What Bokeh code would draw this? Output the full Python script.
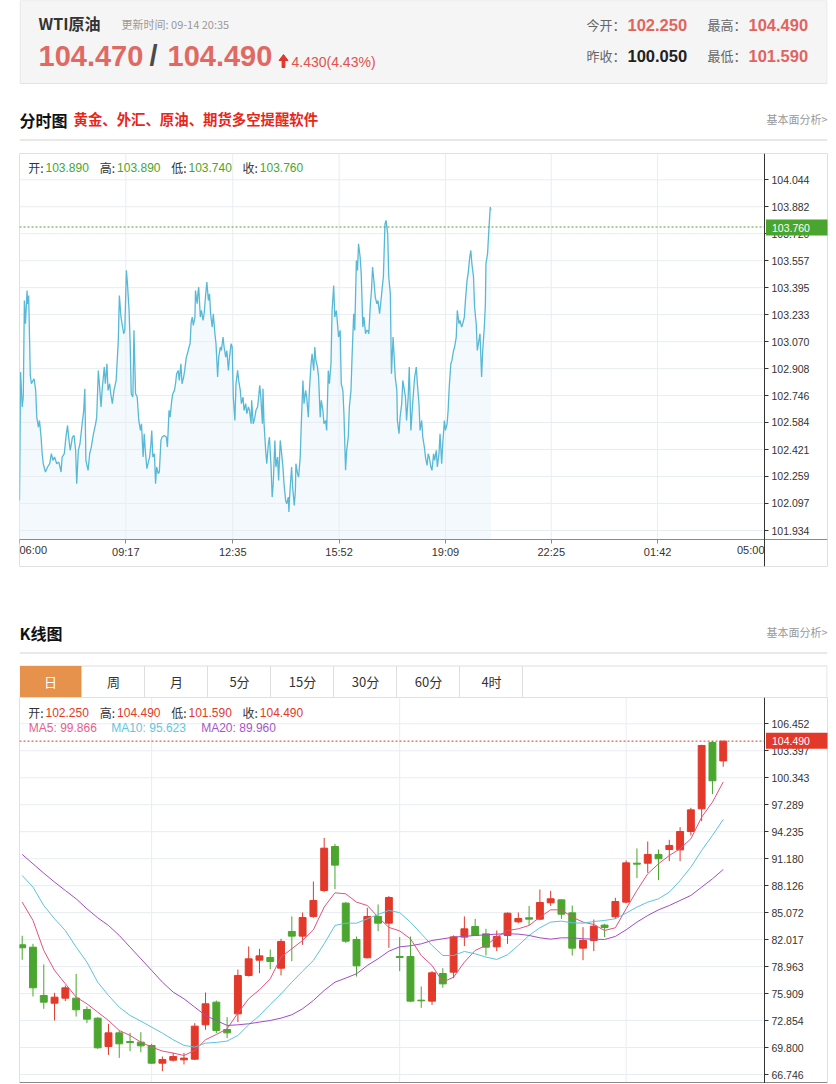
from bokeh.plotting import figure
from bokeh.layouts import column
from bokeh.models import Range1d, FixedTicker, LinearAxis, PrintfTickFormatter
from bokeh.core.properties import value
from bokeh.embed import file_html
from bokeh.resources import INLINE

CJK = "Noto Sans CJK SC"
NUM = "Liberation Sans"
RED = "#e2392b"
GREEN = "#4ba62f"
GRID = "#e7edf1"
BOX = "#e0e0e0"

# ---------------- data ----------------
QUOTE_NAME = "WTI原油"
UPDATE_TIME = "更新时间: 09-14 20:35"
BID = "104.470"
ASK = "104.490"
CHANGE = "4.430(4.43%)"
TODAY_OPEN = "102.250"
DAY_HIGH = "104.490"
PREV_CLOSE = "100.050"
DAY_LOW = "101.590"
AD_TEXT = "黄金、外汇、原油、期货多空提醒软件"
TABS = ["日", "周", "月", "5分", "15分", "30分", "60分", "4时"]

# intraday (minutes after 06:00, price)
INTRA_MIN = [
    0, 2, 5, 7, 9, 11, 14, 15, 17, 20, 22, 25, 27, 30, 32, 35, 37, 40, 42, 44,
    48, 52, 56, 59, 62, 65, 69, 73, 77, 79, 83, 86, 89, 91, 94, 98, 101, 104, 106, 109,
    112, 116, 119, 121, 123, 127, 130, 133, 137, 141, 143, 146, 148, 151, 153, 157, 159, 162, 164, 167,
    169, 172, 175, 179, 183, 185, 188, 190, 193, 195, 198, 200, 203, 205, 207, 210, 212,
    215, 218, 221, 224, 226, 229, 231, 233, 236, 238, 241, 243, 245, 247, 250, 252, 254, 257, 259, 262,
    264, 268, 272, 274, 277, 279, 282, 284, 287, 289, 291, 294, 296, 299, 301, 304, 306, 309, 311, 314,
    316, 318, 320, 322, 325, 326, 329, 331, 332, 335, 337, 340, 342, 345, 347, 350, 352, 354, 357, 359,
    362, 364, 367, 369, 372, 374, 377, 379, 382, 384, 387, 389, 392, 394, 396, 399, 401, 404, 406, 409,
    411, 414, 416, 419, 421, 424, 426, 429,
    430, 433, 436, 438, 441, 443, 445, 447, 450, 451, 453, 456, 458, 461, 463, 466, 468, 470, 473, 475,
    478, 480, 483, 485, 488, 490, 493, 495, 498, 499, 501, 504, 506, 509, 511, 512, 515, 517, 520, 522,
    525, 527, 530, 532, 535, 537, 540, 542, 545, 547, 549, 552, 554, 557, 559, 562, 564, 567, 569, 572,
    574, 577, 579, 582, 584, 587, 589, 591, 594, 596, 599, 601, 604, 606, 609, 611, 614, 616, 619, 621,
    624, 626, 628, 631, 633, 636, 638, 641, 643,
    645, 647, 650, 652, 654, 657, 659, 662, 664, 667, 669, 672, 674, 677, 679, 682, 684, 687, 688, 689,
    692, 694, 696, 699, 700, 703, 705, 708, 710, 713, 715, 717, 720, 722, 725, 727, 730, 732, 735, 737,
    740, 742, 745, 747, 750, 752, 755, 757, 759, 762, 764, 767, 769, 772, 774, 777, 779, 782, 784, 787,
    789, 792, 794, 796, 799, 801, 804, 806, 809, 811, 814, 816, 819, 821, 824, 826, 829, 831, 834, 836,
    838, 841, 843, 846, 848, 851, 853, 856, 858, 861, 863, 864, 867, 869, 872, 873,
]
INTRA_PRICE = [
    102.115, 102.887, 102.677, 102.737, 103.318, 103.178, 103.378, 103.298, 103.348, 102.867,
    102.817, 102.837, 102.847, 102.777, 102.616, 102.556, 102.596, 102.496, 102.396, 102.336,
    102.286, 102.316, 102.336, 102.396, 102.356, 102.376, 102.336, 102.346, 102.286, 102.376,
    102.396, 102.496, 102.566, 102.496, 102.416, 102.496, 102.506, 102.416, 102.215, 102.416,
    102.456, 102.576, 102.657, 102.787, 102.356, 102.296, 102.396, 102.436, 102.516, 102.576,
    102.616, 102.897, 102.817, 102.677, 102.777, 102.917, 102.817, 102.937, 102.777, 102.817,
    102.757, 102.697, 102.777, 102.837, 103.078, 103.348, 103.218, 103.178, 103.118, 103.138,
    103.499, 103.419, 103.258, 103.058, 102.757, 102.737, 103.138,
    102.757, 102.737, 102.596, 102.536, 102.576, 102.376, 102.516, 102.416, 102.306, 102.336,
    102.376, 102.436, 102.536, 102.376, 102.396, 102.215, 102.316, 102.276, 102.286, 102.476,
    102.496, 102.506, 102.496, 102.436, 102.657, 102.616, 102.717, 102.757, 102.777, 102.817,
    102.877, 102.897, 102.837, 102.937, 102.817, 102.857, 102.897, 102.977, 102.997, 103.038,
    103.058, 103.188, 103.218, 103.168, 103.218, 103.378, 103.298, 103.378, 103.398, 103.218,
    103.258, 103.198, 103.238, 103.358, 103.429, 103.318, 103.358, 103.238, 103.158, 103.238,
    103.118, 103.058, 102.857, 102.977, 103.038, 103.017, 103.098, 103.038, 102.977, 103.017,
    102.897, 102.977, 103.058, 103.038, 102.737, 102.596, 102.817, 102.897, 102.837, 102.777,
    102.697, 102.737, 102.657, 102.697, 102.637, 102.677, 102.657, 102.576,
    102.717, 102.576, 102.616, 102.657, 102.677, 102.737, 102.807, 102.737, 102.576, 102.787,
    102.576, 102.416, 102.336, 102.456, 102.496, 102.316, 102.135, 102.215, 102.476, 102.316,
    102.376, 102.235, 102.476, 102.416, 102.316, 102.215, 102.115, 102.095, 102.135, 102.045,
    102.175, 102.316, 102.195, 102.085, 102.175, 102.336, 102.276, 102.255, 102.376, 102.576,
    102.837, 102.697, 102.777, 102.737, 102.616, 102.777, 102.937, 102.997, 102.897, 103.038,
    102.957, 102.917, 102.857, 102.616, 102.717, 102.657, 102.576, 102.596, 102.536, 102.897,
    102.817, 102.937, 103.258, 103.408, 103.218, 103.258, 103.178, 103.098, 103.138, 102.817,
    102.777, 102.637, 102.296, 102.416, 102.496, 102.677, 102.777, 102.977, 103.238, 103.138,
    103.559, 103.499, 103.659, 103.579, 103.479, 103.158, 103.218, 103.118, 103.138,
    103.138, 103.118, 103.298, 103.378, 103.519, 103.419, 103.338, 103.298, 103.318, 103.238,
    103.298, 103.398, 103.459, 103.779, 103.800, 103.719, 103.459, 103.358, 103.098, 102.877,
    103.098, 102.977, 102.857, 102.777, 102.596, 102.516, 102.616, 102.697, 102.837, 102.777,
    102.737, 102.596, 102.737, 102.917, 102.536, 102.637, 102.777, 102.857, 102.917, 102.817,
    102.697, 102.536, 102.596, 102.496, 102.436, 102.376, 102.326, 102.396, 102.376, 102.316,
    102.296, 102.396, 102.356, 102.416, 102.316, 102.396, 102.516, 102.336, 102.456, 102.596,
    102.536, 102.576, 102.657, 102.797, 102.937, 102.957, 103.017, 103.038, 103.098, 103.258,
    103.178, 103.198, 103.158, 103.178, 103.218, 103.318, 103.439, 103.479, 103.579, 103.619,
    103.539, 103.459, 103.278, 103.178, 103.017, 103.078, 103.118, 102.857, 103.017, 103.158,
    103.298, 103.539, 103.599, 103.719, 103.880, 103.860,
]
INTRA_LAST = 103.760
INTRA_OHLC = ["103.890", "103.890", "103.740", "103.760"]
INTRA_YTICKS = [104.044, 103.882, 103.720, 103.557, 103.395, 103.233, 103.070,
                102.908, 102.746, 102.584, 102.421, 102.259, 102.097, 101.934]
INTRA_XTICKS = [0, 197, 395, 592, 789, 985, 1182, 1380]
INTRA_XLABELS = ["06:00", "09:17", "12:35", "15:52", "19:09", "22:25", "01:42", "05:00"]

# daily candles
K_OPEN = [81.43, 81.16, 75.69, 74.82, 75.39, 75.39, 74.11, 73.12, 69.92, 71.46,
          70.48, 70.41, 70.03, 68.03, 68.37, 68.41, 68.48, 72.37, 74.94, 71.84,
          73.61, 77.96, 79.69, 79.99, 78.78, 82.94, 82.41, 84.64, 87.58, 92.56,
          86.15, 82.03, 79.96, 84.64, 83.88, 80.11, 80.11, 75.16, 75.05, 78.18,
          78.33, 82.30, 83.50, 82.67, 81.20, 82.49, 84.03, 84.49, 84.33, 86.18,
          86.52, 85.05, 81.05, 81.92, 83.66, 84.60, 86.26, 90.67, 90.67, 91.66,
          92.22, 92.18, 94.26, 96.83, 104.34, 102.25]
K_HIGH = [82.45, 81.54, 79.20, 75.99, 76.82, 78.14, 74.45, 73.24, 72.48, 71.73,
          71.46, 71.54, 70.22, 68.78, 69.20, 69.20, 72.56, 76.03, 75.12, 73.24,
          78.63, 81.24, 80.97, 80.90, 82.11, 84.64, 85.09, 88.60, 93.54, 92.86,
          86.26, 82.37, 85.62, 86.00, 86.94, 82.30, 82.37, 76.71, 78.45, 78.78,
          82.49, 84.64, 84.37, 83.24, 83.05, 85.09, 85.09, 85.84, 87.69, 87.54,
          86.56, 85.88, 83.43, 84.30, 83.81, 86.75, 90.98, 92.34, 93.13, 92.22,
          93.32, 94.75, 96.94, 104.07, 104.49, 104.49]
K_LOW = [79.73, 75.58, 74.18, 72.86, 75.05, 73.31, 72.56, 69.65, 68.97, 68.63,
         69.39, 69.27, 67.95, 67.12, 68.22, 67.88, 68.41, 71.80, 71.43, 70.86,
         72.67, 77.84, 78.22, 78.67, 77.96, 79.58, 81.43, 84.49, 87.39, 87.73,
         81.65, 77.84, 79.90, 82.98, 81.09, 78.45, 74.94, 74.29, 74.63, 76.56,
         77.65, 81.28, 82.45, 80.22, 80.71, 81.54, 83.88, 83.62, 84.26, 85.84,
         84.37, 80.22, 79.69, 80.71, 82.30, 84.37, 86.15, 88.98, 89.58, 88.75,
         90.90, 90.90, 93.81, 95.43, 98.49, 101.59]
K_CLOSE = [81.09, 76.56, 74.94, 75.50, 76.56, 74.07, 73.01, 69.77, 71.46, 70.22,
           70.37, 69.99, 68.03, 68.44, 68.78, 68.60, 72.22, 74.75, 71.73, 71.46,
           77.96, 79.84, 80.18, 79.54, 81.81, 82.41, 84.52, 86.45, 92.37, 90.45,
           81.84, 79.05, 84.64, 83.88, 86.79, 79.99, 75.05, 75.09, 78.26, 77.01,
           82.33, 83.24, 82.49, 81.16, 82.37, 85.01, 84.41, 84.33, 86.22, 86.64,
           84.90, 81.05, 81.92, 83.54, 83.39, 86.33, 90.71, 90.56, 91.66, 91.17,
           92.68, 94.26, 96.71, 104.00, 100.00, 104.49]
MA5 = [86.26, 84.19, 80.79, 78.53, 77.02, 75.51, 74.75, 73.81, 72.86, 71.73,
       71.17, 70.41, 69.85, 69.40, 69.17, 68.90, 69.47, 70.68, 71.28, 71.92,
       73.70, 75.32, 76.34, 77.58, 80.04, 80.98, 81.92, 83.13, 85.70, 87.32,
       87.20, 86.26, 85.88, 84.56, 83.40, 83.00, 82.11, 80.22, 79.09, 77.21,
       77.77, 79.47, 80.79, 81.36, 82.30, 83.05, 83.24, 83.62, 84.56, 85.39,
       85.39, 84.56, 84.00, 83.73, 83.05, 83.36, 85.51, 87.58, 89.47, 90.60,
       91.54, 92.30, 93.43, 95.88, 97.58, 99.866]
MA10 = [89.28, 87.96, 85.88, 84.37, 83.05, 81.17, 79.47, 77.20, 75.69, 74.37,
        73.43, 72.79, 72.11, 71.43, 70.68, 70.04, 69.85, 70.30, 70.38, 70.53,
        71.17, 72.37, 73.43, 74.68, 75.88, 77.20, 78.45, 79.66, 81.55, 83.62,
        83.88, 83.88, 84.37, 84.86, 85.32, 85.07, 84.00, 82.68, 81.36, 80.22,
        80.22, 80.68, 80.41, 80.04, 79.77, 80.30, 81.36, 82.49, 83.36, 84.00,
        84.11, 83.92, 83.88, 84.07, 84.19, 84.38, 85.02, 85.70, 86.26, 86.64,
        87.39, 88.71, 90.22, 92.11, 93.81, 95.623]
MA20 = [91.66, 90.60, 89.54, 88.53, 87.58, 86.64, 85.51, 84.49, 83.62, 82.49,
        81.17, 79.85, 78.53, 77.20, 76.07, 75.32, 74.37, 73.43, 72.86, 72.30,
        72.37, 72.49, 72.68, 72.86, 73.13, 73.51, 74.19, 75.13, 76.26, 77.20,
        77.66, 78.15, 79.09, 79.85, 80.71, 81.20, 81.32, 81.54, 81.92, 82.11,
        82.30, 82.38, 82.49, 82.56, 82.64, 82.68, 82.64, 82.49, 82.22, 82.07,
        82.22, 82.22, 82.11, 82.07, 82.03, 82.38, 83.13, 84.00, 84.75, 85.39,
        85.88, 86.45, 87.02, 87.96, 88.90, 89.960]
K_LAST = 104.490
K_OHLC = ["102.250", "104.490", "101.590", "104.490"]
MA_TEXT = ["MA5: 99.866", "MA10: 95.623", "MA20: 89.960"]
K_YTICKS = [106.452, 103.397, 100.343, 97.289, 94.235, 91.180, 88.126,
            85.072, 82.017, 78.963, 75.909, 72.854, 69.800, 66.746]
K_MONTH_GRID = [12, 35, 56]

MA_COLORS = ["#e4517f", "#5cc3de", "#a24dc3"]
MA_TEXT_COLORS = ["#e8608c", "#62c6e0", "#a855c8"]

W = 836


def txt(p, x, y, s, size, color, font=CJK, align="left", bold=False, level="glyph"):
    p.text(x=[x], y=[y], text=[s], text_font=value(font), text_font_size=size,
           text_color=color, text_align=align, text_baseline="middle",
           text_font_style="bold" if bold else "normal", level=level)


def base_fig(height, xr, yr, bottom=0, outline=None):
    p = figure(width=W, height=height, x_range=xr, y_range=yr,
               x_axis_location=None, y_axis_location=None, toolbar_location=None,
               output_backend="svg", min_border_left=19, min_border_right=9,
               min_border_top=0, min_border_bottom=bottom, outline_line_color=outline)
    p.grid.visible = False
    return p


def style_axis(ax, color, size):
    ax.major_label_text_font = NUM
    ax.major_label_text_font_size = size
    ax.major_label_text_color = "#333333"
    ax.axis_line_color = color
    ax.major_tick_line_color = color
    ax.major_tick_in = 0
    ax.major_tick_out = 4
    ax.minor_tick_line_color = None


# ---------------- header ----------------
pA = base_fig(153, Range1d(19, 827), Range1d(153, 0))
pA.quad(left=19.5, right=826.5, top=0, bottom=83, fill_color="#f5f5f5", line_color="#e4e4e4")
txt(pA, 38, 22, QUOTE_NAME, "16px", "#333333", bold=True)
txt(pA, 121, 23, UPDATE_TIME, "11px", "#9a9a9a")
txt(pA, 38, 55, BID, "29px", "#e06a63", font=NUM, bold=True)
txt(pA, 149, 55, "/", "29px", "#4a4a4a", font=NUM, bold=True)
txt(pA, 167, 55, ASK, "29px", "#e06a63", font=NUM, bold=True)
pA.patch(x=[278.5, 287.5, 283], y=[60, 60, 54], color="#e2352b")
pA.quad(left=281.6, right=284.4, top=59.5, bottom=67, color="#e2352b")
txt(pA, 291, 61, CHANGE, "14px", "#e0524b", font=NUM)
txt(pA, 586, 24, "今开：", "13px", "#666666")
txt(pA, 627, 24, TODAY_OPEN, "16.5px", "#e06560", font=NUM, bold=True)
txt(pA, 707, 24, "最高：", "13px", "#666666")
txt(pA, 748, 24, DAY_HIGH, "16.5px", "#e06560", font=NUM, bold=True)
txt(pA, 586, 55, "昨收：", "13px", "#666666")
txt(pA, 627, 55, PREV_CLOSE, "16.5px", "#222222", font=NUM, bold=True)
txt(pA, 707, 55, "最低：", "13px", "#666666")
txt(pA, 748, 55, DAY_LOW, "16.5px", "#e06560", font=NUM, bold=True)
txt(pA, 19, 119, "分时图", "16px", "#111111", bold=True)
txt(pA, 73, 118, AD_TEXT, "14.4px", "#e8271b", bold=True)
txt(pA, 827, 118, "基本面分析>", "11px", "#999999", align="right")
pA.segment(x0=[19], y0=[139.5], x1=[827], y1=[139.5], line_color="#d2d2d2", line_width=1)


# ---------------- intraday chart ----------------
def pxB(x):
    return (x - 19) * 1380 / 745


def pyB(y):
    return 104.044 - (y - 179.3) * (104.044 - 101.934) / (530.0 - 179.3)


yb_axis = pyB(539)
xb_axis = INTRA_XTICKS[-1]
pB = base_fig(414, Range1d(pxB(19), pxB(827)), Range1d(pyB(566), pyB(153)), bottom=1, outline=BOX)

pB.varea(x=INTRA_MIN, y1=INTRA_PRICE, y2=yb_axis, fill_color="#f3f9fc")
pB.segment(x0=[0] * len(INTRA_YTICKS), y0=INTRA_YTICKS, x1=[xb_axis] * len(INTRA_YTICKS),
           y1=INTRA_YTICKS, line_color=GRID, line_width=1)
inner = INTRA_XTICKS[1:-1]
pB.segment(x0=inner, y0=[yb_axis] * len(inner), x1=inner, y1=[pyB(153)] * len(inner),
           line_color=GRID, line_width=1)
pB.line(INTRA_MIN, INTRA_PRICE, line_color="#58b9d6", line_width=1.3)
pB.segment(x0=[0], y0=[INTRA_LAST], x1=[xb_axis], y1=[INTRA_LAST], line_color="#4aa52e",
           line_dash="2 2", line_width=1)

ra = LinearAxis(fixed_location=xb_axis, ticker=FixedTicker(ticks=INTRA_YTICKS),
                formatter=PrintfTickFormatter(format="%.3f"))
style_axis(ra, "#333333", "10.5px")
ra.major_label_standoff = 3
pB.add_layout(ra, "right")

ba = LinearAxis(fixed_location=yb_axis, ticker=FixedTicker(ticks=INTRA_XTICKS))
ba.major_label_overrides = {t: (lab if 0 < k < len(INTRA_XTICKS) - 1 else "")
                            for k, (t, lab) in enumerate(zip(INTRA_XTICKS, INTRA_XLABELS))}
style_axis(ba, "#8a8a8a", "11px")
ba.major_label_standoff = 2
pB.add_layout(ba, "below")

txt(pB, INTRA_XTICKS[0], pyB(549.5), INTRA_XLABELS[0], "11px", "#333333", font=NUM)
txt(pB, INTRA_XTICKS[-1], pyB(549.5), INTRA_XLABELS[-1], "11px", "#333333", font=NUM, align="right")

hx = [27.7, 99.3, 170.7, 242.0]
for lab, v, x0 in zip(["开:", "高:", "低:", "收:"], INTRA_OHLC, hx):
    txt(pB, pxB(x0), pyB(167.3), lab, "12px", "#333333")
    txt(pB, pxB(x0 + 17.3), pyB(167.3), v, "12px", "#4aa52e", font=NUM)

pB.quad(left=pxB(765.5), right=pxB(827), top=pyB(219), bottom=pyB(235),
        fill_color="#4aa52e", line_color=None, level="overlay")
txt(pB, pxB(771.5), pyB(227.3), f"{INTRA_LAST:.3f}", "10.5px", "white", font=NUM, level="overlay")

# ---------------- K-line section header & tabs ----------------
pC = base_fig(130, Range1d(19, 827), Range1d(697, 567))
txt(pC, 19, 632, "K线图", "16px", "#111111", bold=True)
txt(pC, 827, 631, "基本面分析>", "11px", "#999999", align="right")
pC.segment(x0=[19], y0=[652.5], x1=[827], y1=[652.5], line_color="#d2d2d2", line_width=1)
pC.quad(left=19.5, right=826.5, top=665.5, bottom=698, fill_color="white", line_color="#dedede")
pC.quad(left=19.5, right=81, top=665.5, bottom=698, fill_color="#e6914c", line_color=None)
seps = [81 + 63 * k for k in range(1, len(TABS))]
pC.segment(x0=seps, y0=[665.5] * len(seps), x1=seps, y1=[697] * len(seps), line_color="#dedede")
for k, t in enumerate(TABS):
    txt(pC, 50 + 63 * k, 681, t, "13px", "white" if k == 0 else "#333333", align="center")


# ---------------- K-line chart ----------------
def pxD(x):
    return (x - 21.7) / 10.785


def pyD(y):
    return 106.452 - (y - 723.3) * (106.452 - 66.746) / (1074.0 - 723.3)


xd_axis = pxD(764)
pD = base_fig(386, Range1d(pxD(19), pxD(827)), Range1d(pyD(1083), pyD(697)), outline=BOX)
pD.segment(x0=[pxD(19)] * len(K_YTICKS), y0=K_YTICKS, x1=[xd_axis] * len(K_YTICKS), y1=K_YTICKS,
           line_color=GRID, line_width=1)
pD.segment(x0=K_MONTH_GRID, y0=[pyD(1083)] * len(K_MONTH_GRID), x1=K_MONTH_GRID,
           y1=[pyD(697)] * len(K_MONTH_GRID), line_color=GRID, line_width=1)

idx = list(range(len(K_OPEN)))
cols = [RED if c > o else GREEN for o, c in zip(K_OPEN, K_CLOSE)]
tops = [max(o, c) for o, c in zip(K_OPEN, K_CLOSE)]
bots = [min(o, c) for o, c in zip(K_OPEN, K_CLOSE)]
pD.segment(x0=idx, y0=K_LOW, x1=idx, y1=K_HIGH, line_color=cols, line_width=1)
pD.vbar(x=idx, top=tops, bottom=bots, width=0.64, fill_color=cols, line_color=cols, line_width=1)
for ma, c in zip([MA5, MA10, MA20], MA_COLORS):
    pD.line(idx, ma, line_color=c, line_width=1)
pD.segment(x0=[pxD(19)], y0=[K_LAST], x1=[xd_axis], y1=[K_LAST], line_color=RED,
           line_dash="2 2", line_width=1)
pD.segment(x0=[pxD(19)], y0=[pyD(1082.5)], x1=[pxD(827)], y1=[pyD(1082.5)],
           line_color="#333333", line_width=1)

ka = LinearAxis(fixed_location=xd_axis, ticker=FixedTicker(ticks=K_YTICKS),
                formatter=PrintfTickFormatter(format="%.3f"))
style_axis(ka, "#333333", "10.5px")
ka.major_label_standoff = 3
pD.add_layout(ka, "right")

pD.quad(left=pxD(765.5), right=pxD(827), top=pyD(732.3), bottom=pyD(748.3),
        fill_color=RED, line_color=None, level="overlay")
txt(pD, pxD(771.5), pyD(740.3), f"{K_LAST:.3f}", "10.5px", "white", font=NUM, level="overlay")

for lab, v, x0 in zip(["开:", "高:", "低:", "收:"], K_OHLC, hx):
    txt(pD, pxD(x0), pyD(711.7), lab, "12px", "#333333")
    txt(pD, pxD(x0 + 17.3), pyD(711.7), v, "12px", RED, font=NUM)
for s, c, x0 in zip(MA_TEXT, MA_TEXT_COLORS, [28.3, 110.7, 200.7]):
    txt(pD, pxD(x0), pyD(727.7), s, "12px", c, font=NUM)

layout = column(pA, pB, pC, pD, spacing=0)
with open("out.html", "w", encoding="utf-8") as f:
    f.write(file_html(layout, INLINE, title="WTI原油"))
